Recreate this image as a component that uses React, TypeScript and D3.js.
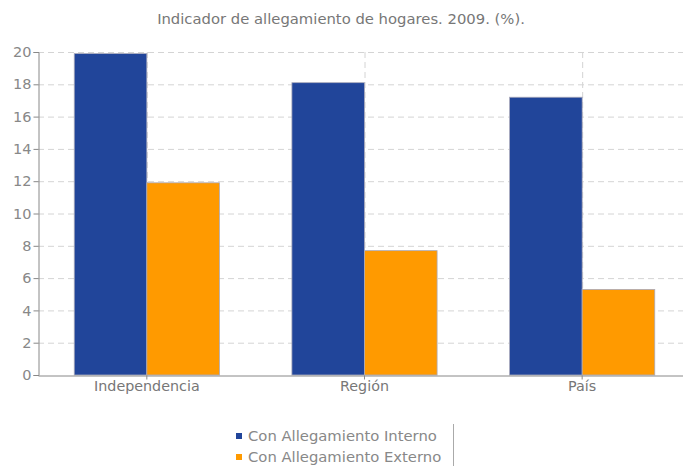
import { useRef, useEffect } from "react";
import * as d3 from "d3";

const categories = ["Independencia", "Región", "País"];
const series = ["Con Allegamiento Interno", "Con Allegamiento Externo"];
const interno = [19.9, 18.1, 17.2];
const externo = [11.9, 7.7, 5.3];
const yTicks = [0, 2, 4, 6, 8, 10, 12, 14, 16, 18, 20];
const colors = ["#21459a", "#ff9a00"];

const W = 683;
const H = 466;
const left = 38;
const right = 691;
const top = 52;
const bottom = 375;

export default function App() {
  const ref = useRef<SVGSVGElement>(null);

  useEffect(() => {
    const svg = d3.select(ref.current);
    svg.selectAll("*").remove();
    const font = "Verdana, 'DejaVu Sans', sans-serif";

    const x = d3.scaleBand(categories, [left, right]).paddingInner(0.333).paddingOuter(0.1665);
    const y = d3.scaleLinear([0, 20], [bottom, top]);
    const data = categories.map((c, i) => ({ c, v: [interno[i], externo[i]] }));

    // title
    svg.append("text")
      .attr("x", 341).attr("y", 24)
      .attr("text-anchor", "middle")
      .attr("font-family", font).attr("font-size", 14.8)
      .attr("fill", "#777")
      .text("Indicador de allegamiento de hogares. 2009. (%).");

    // grid
    const grid = svg.append("g");
    grid.selectAll("line.h")
      .data(yTicks.filter(d => d > 0))
      .enter().append("line")
      .attr("x1", left).attr("x2", right)
      .attr("y1", d => y(d) + 0.5).attr("y2", d => y(d) + 0.5)
      .attr("stroke", "#d4d4d4").attr("stroke-dasharray", "6,4");
    grid.selectAll("line.v")
      .data(categories)
      .enter().append("line")
      .attr("x1", d => x(d)! + x.bandwidth() / 2 + 0.5)
      .attr("x2", d => x(d)! + x.bandwidth() / 2 + 0.5)
      .attr("y1", top).attr("y2", bottom)
      .attr("stroke", "#d4d4d4").attr("stroke-dasharray", "6,4");

    // bars
    const sub = d3.scaleBand([0, 1], [0, x.bandwidth()]);
    svg.append("g").selectAll("g")
      .data(data)
      .enter().append("g")
      .attr("transform", d => `translate(${x(d.c)},0)`)
      .selectAll("rect")
      .data(d => d.v)
      .enter().append("rect")
      .attr("x", (d, i) => sub(i)!)
      .attr("y", d => y(d))
      .attr("width", sub.bandwidth())
      .attr("height", d => bottom - y(d))
      .attr("fill", (d, i) => colors[i])
      .attr("stroke", "#aab")
      .attr("stroke-width", 0.8);

    // y axis
    const ya = svg.append("g").attr("transform", `translate(${left + 0.5},0)`)
      .call(d3.axisLeft(y).tickValues(yTicks).tickSize(5).tickSizeOuter(5));
    ya.select(".domain").attr("stroke", "#888");
    ya.selectAll(".tick line").attr("stroke", "#888");
    ya.selectAll(".tick text").attr("fill", "#888").attr("font-size", 14.5)
      .attr("font-family", font).attr("x", -7);

    // x axis
    const xa = svg.append("g").attr("transform", `translate(0,${bottom + 0.5})`)
      .call(d3.axisBottom(x).tickSize(4).tickSizeOuter(0));
    xa.select(".domain").attr("stroke", "#888");
    xa.selectAll(".tick line").attr("stroke", "#888");
    xa.selectAll(".tick text").attr("fill", "#777").attr("font-size", 14.3)
      .attr("font-family", font).attr("y", 4).attr("dy", "0.8em");

    // legend
    const lg = svg.append("g");
    series.forEach((s, i) => {
      lg.append("rect")
        .attr("x", 236).attr("y", 433 + i * 21)
        .attr("width", 6).attr("height", 6)
        .attr("fill", colors[i]);
      lg.append("text")
        .attr("x", 248).attr("y", 441 + i * 21)
        .attr("font-family", font).attr("font-size", 14.8)
        .attr("fill", "#888")
        .text(s);
    });
    lg.append("line")
      .attr("x1", 453.5).attr("x2", 453.5).attr("y1", 424).attr("y2", 466)
      .attr("stroke", "#aaa");
  }, []);

  return (
    <svg ref={ref} width={W} height={H} style={{ position: "absolute", left: 0, top: 0 }} />
  );
}
